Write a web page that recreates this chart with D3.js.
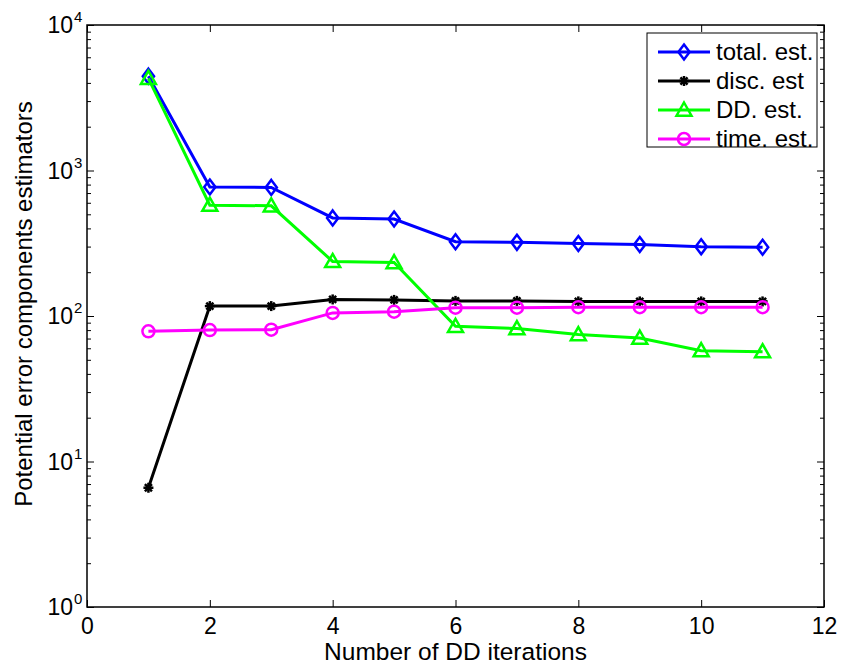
<!DOCTYPE html>
<html>
<head>
<meta charset="utf-8">
<script src="https://cdn.jsdelivr.net/npm/d3@7"></script>
<style>
  html, body { margin: 0; padding: 0; background: #fff; }
  svg { display: block; font-family: "Liberation Sans", Arial, sans-serif; }
</style>
</head>
<body>
<svg id="chart" width="841" height="668"></svg>
<script>
const iterations = [1, 2, 3, 4, 5, 6, 7, 8, 9, 10, 11];
const totalEst = [4450, 770, 765, 472, 464, 324, 321, 315, 310, 299, 297];
const discEst  = [6.6, 117, 117, 130, 129, 127, 127, 126, 126, 126, 126];
const ddEst    = [4300, 578, 572, 237, 233, 85, 82, 74.5, 70.5, 57.8, 56.8];
const timeEst  = [78.5, 80, 80.5, 105, 107, 114, 114, 115, 115, 115, 115];
const seriesNames = ["total. est.", "disc. est", "DD. est.", "time. est."];
const seriesColors = ["#0000ff", "#000000", "#00ff00", "#ff00ff"];
const seriesMarkers = ["diamond", "star", "triangle", "circle"];
const xTicks = [0, 2, 4, 6, 8, 10, 12];
const yTickExps = [0, 1, 2, 3, 4];

const m = { left: 87, right: 824, top: 25, bottom: 607 };
const svg = d3.select("#chart");

const x = d3.scaleLinear().domain([0, 12]).range([m.left, m.right]);
const y = d3.scaleLog().domain([1, 10000]).range([m.bottom, m.top]);

const g = svg.append("g");

const fs = 23;
const xAxisB = d3.axisBottom(x).tickValues(xTicks).tickSize(-7).tickPadding(11).tickFormat(d3.format("d"));
const xAxisT = d3.axisTop(x).tickValues(xTicks).tickSize(-7).tickFormat("");
const minorY = [];
for (let e = 0; e < 4; e++) for (let k = 2; k <= 9; k++) minorY.push(k * Math.pow(10, e));
const majorY = yTickExps.map(e => Math.pow(10, e));

function styleAxis(sel) {
  sel.select(".domain").remove();
  sel.selectAll("line").attr("stroke", "#000").attr("stroke-width", 1);
  sel.selectAll("text").attr("font-size", fs).attr("fill", "#000");
}

g.append("g").attr("transform", `translate(0,${m.bottom})`).call(xAxisB).call(styleAxis)
  .selectAll("text").attr("dy", "0.71em");
g.append("g").attr("transform", `translate(0,${m.top})`).call(xAxisT).call(styleAxis);

g.append("g").attr("transform", `translate(${m.left},0)`)
  .call(d3.axisLeft(y).tickValues(majorY).tickSize(-7).tickFormat("")).call(styleAxis);
g.append("g").attr("transform", `translate(${m.left},0)`)
  .call(d3.axisLeft(y).tickValues(minorY).tickSize(-4).tickFormat("")).call(styleAxis);
g.append("g").attr("transform", `translate(${m.right},0)`)
  .call(d3.axisRight(y).tickValues(majorY).tickSize(-7).tickFormat("")).call(styleAxis);
g.append("g").attr("transform", `translate(${m.right},0)`)
  .call(d3.axisRight(y).tickValues(minorY).tickSize(-4).tickFormat("")).call(styleAxis);

// y tick labels 10^n
yTickExps.forEach(e => {
  g.append("text").attr("x", 73).attr("y", y(Math.pow(10, e)) + 8)
    .attr("text-anchor", "end").attr("font-size", fs).attr("fill", "#000").text("10");
  g.append("text").attr("x", 74).attr("y", y(Math.pow(10, e)) - 3)
    .attr("font-size", 15).attr("fill", "#000").text(String(e));
});

// box
g.append("rect").attr("x", m.left).attr("y", m.top)
  .attr("width", m.right - m.left).attr("height", m.bottom - m.top)
  .attr("fill", "none").attr("stroke", "#000").attr("stroke-width", 1.5);

// axis labels
g.append("text").attr("x", (m.left + m.right) / 2).attr("y", 660)
  .attr("text-anchor", "middle").attr("font-size", 24.5).attr("fill", "#000")
  .text("Number of DD iterations");
g.append("text").attr("transform", `translate(32,304) rotate(-90)`)
  .attr("text-anchor", "middle").attr("font-size", 24).attr("fill", "#000")
  .text("Potential error components estimators");

// markers
function drawMarker(sel, type, color, cx, cy) {
  const sw = 2.5;
  if (type === "diamond") {
    const r = 7.5;
    sel.append("path").attr("d", `M${cx},${cy - r}L${cx + r * 0.75},${cy}L${cx},${cy + r}L${cx - r * 0.75},${cy}Z`)
      .attr("fill", "none").attr("stroke", color).attr("stroke-width", sw);
  } else if (type === "triangle") {
    const r = 7.5;
    sel.append("path").attr("d", `M${cx},${cy - r}L${cx + r},${cy + r * 0.75}L${cx - r},${cy + r * 0.75}Z`)
      .attr("fill", "none").attr("stroke", color).attr("stroke-width", sw);
  } else if (type === "circle") {
    sel.append("circle").attr("cx", cx).attr("cy", cy).attr("r", 6)
      .attr("fill", "none").attr("stroke", color).attr("stroke-width", sw);
  } else if (type === "star") {
    const r = 5;
    for (let i = 0; i < 4; i++) {
      const a = i * Math.PI / 4;
      sel.append("line").attr("x1", cx - r * Math.cos(a)).attr("y1", cy - r * Math.sin(a))
        .attr("x2", cx + r * Math.cos(a)).attr("y2", cy + r * Math.sin(a))
        .attr("stroke", color).attr("stroke-width", 2.5);
    }
    sel.append("circle").attr("cx", cx).attr("cy", cy).attr("r", 2.5).attr("fill", color);
  }
}

const allSeries = [totalEst, discEst, ddEst, timeEst];
const line = d3.line().x((d, i) => x(iterations[i])).y(d => y(d));
allSeries.forEach((data, si) => {
  const sg = g.append("g");
  sg.append("path").attr("d", line(data)).attr("fill", "none")
    .attr("stroke", seriesColors[si]).attr("stroke-width", 3);
  data.forEach((d, i) => drawMarker(sg, seriesMarkers[si], seriesColors[si], x(iterations[i]), y(d)));
});

// legend
const lg = g.append("g");
lg.append("rect").attr("x", 647).attr("y", 33).attr("width", 170).attr("height", 114)
  .attr("fill", "#fff").attr("stroke", "#000").attr("stroke-width", 1);
const rowY = [52, 81, 110, 139];
seriesNames.forEach((name, si) => {
  lg.append("line").attr("x1", 658).attr("x2", 710).attr("y1", rowY[si]).attr("y2", rowY[si])
    .attr("stroke", seriesColors[si]).attr("stroke-width", 3);
  drawMarker(lg, seriesMarkers[si], seriesColors[si], 684, rowY[si]);
  lg.append("text").attr("x", 716).attr("y", rowY[si] + 8).attr("font-size", 24)
    .attr("fill", "#000").text(name);
});
</script>
</body>
</html>
